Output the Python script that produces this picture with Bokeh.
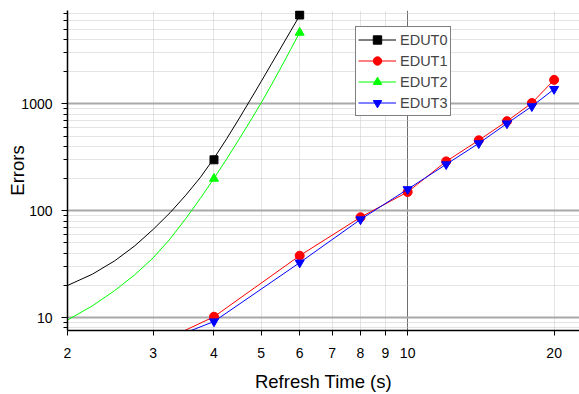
from bokeh.plotting import figure
from bokeh.models import FixedTicker, Grid, Legend, LegendItem, BasicTickFormatter, Range1d
from bokeh.embed import file_html
from bokeh.resources import INLINE

# ---- data ----
curve_x = [2, 2.25, 2.5, 2.75, 3, 3.25, 3.5, 3.75, 4, 4.25, 4.5, 4.75, 5, 5.25, 5.5, 5.75, 6]
edut0_curve = [20, 25.5, 34, 47, 67, 96, 140, 205, 310, 474, 724, 1092, 1620, 2371, 3407, 4821, 6720]
edut2_curve = [9.5, 12.9, 17.9, 25.2, 36.3, 54.6, 84.5, 130.6, 201, 307, 464, 692, 1022, 1510, 2221, 3241, 4676]

marker02_x = [4, 6]
edut0 = [300, 6800]
edut2 = [200, 4650]

marker13_x = [4, 6, 8, 10, 12, 14, 16, 18, 20]
edut1 = [10.2, 38, 87, 150, 290, 457, 690, 1020, 1680]
edut3 = [9.2, 32.7, 83, 159, 272, 428, 656, 950, 1377]
line13_x = [3] + marker13_x
edut1_line = [5.5] + edut1
edut3_line = [5.5] + edut3

x_ticks = [2, 3, 4, 5, 6, 7, 8, 9, 10, 20]
x_grid_major = [10]
x_grid_minor = [2, 3, 4, 5, 6, 7, 8, 9, 20]
y_ticks = [10, 100, 1000]
y_minor = [8, 9, 20, 30, 40, 50, 60, 70, 80, 90, 200, 300, 400, 500, 600, 700, 800, 900,
           2000, 3000, 4000, 5000, 6000, 7000]

FONT = "Liberation Sans"

p = figure(width=579, height=394, x_axis_type="log", y_axis_type="log",
           x_range=Range1d(2, 22.55), y_range=Range1d(7.58, 7490),
           output_backend="svg", toolbar_location=None,
           min_border_left=67, min_border_right=0, min_border_top=10, min_border_bottom=61)
p.outline_line_color = None
p.background_fill_color = "white"
p.border_fill_color = "white"

# grids
p.xgrid.visible = False
p.ygrid.visible = False
xg = Grid(dimension=0, ticker=FixedTicker(ticks=x_grid_major, minor_ticks=x_grid_minor),
          grid_line_color="#6e6e6e", grid_line_width=1,
          minor_grid_line_color="#c8c8c8", minor_grid_line_dash="1 1", minor_grid_line_width=1)
yg = Grid(dimension=1, ticker=FixedTicker(ticks=y_ticks, minor_ticks=y_minor),
          grid_line_color="#a8a8a8", grid_line_width=2,
          minor_grid_line_color="#c8c8c8", minor_grid_line_dash="1 1", minor_grid_line_width=1)
p.add_layout(xg)
p.add_layout(yg)

# axes
xa = p.xaxis[0]
xa.ticker = FixedTicker(ticks=x_ticks, minor_ticks=[])
xa.formatter = BasicTickFormatter()
xa.axis_label = "Refresh Time (s)"
ya = p.yaxis[0]
ya.ticker = FixedTicker(ticks=y_ticks, minor_ticks=y_minor)
ya.formatter = BasicTickFormatter()
ya.axis_label = "Errors"
for ax in (xa, ya):
    ax.axis_line_color = "black"
    ax.axis_line_width = 1.5
    ax.major_tick_line_color = "black"
    ax.minor_tick_line_color = "black"
    ax.major_tick_in = 0
    ax.minor_tick_in = 0
    ax.major_label_text_font = FONT
    ax.major_label_text_font_size = "14px"
    ax.major_label_text_color = "black"
    ax.axis_label_text_font = FONT
    ax.axis_label_text_font_size = "18.5px"
    ax.axis_label_text_font_style = "normal"
    ax.axis_label_text_color = "black"
xa.major_tick_out = 5
xa.major_label_standoff = 12
xa.axis_label_standoff = 10
ya.major_tick_out = 6
ya.minor_tick_out = 4
ya.major_label_standoff = 9
ya.axis_label_standoff = -10

# series
l0 = p.line(curve_x, edut0_curve, line_color="black", line_width=1)
m0 = p.scatter(marker02_x, edut0, marker="square", size=8, color="black")
l1 = p.line(line13_x, edut1_line, line_color="red", line_width=1)
m1 = p.scatter(marker13_x, edut1, marker="circle", size=9, color="red")
l2 = p.line(curve_x, edut2_curve, line_color="#00ff00", line_width=1)
m2 = p.scatter(marker02_x, edut2, marker="triangle", size=9, color="#00ff00")
l3 = p.line(line13_x, edut3_line, line_color="blue", line_width=1)
m3 = p.scatter(marker13_x, edut3, marker="inverted_triangle", size=9, color="blue")

legend = Legend(items=[
    LegendItem(label="EDUT0", renderers=[l0, m0]),
    LegendItem(label="EDUT1", renderers=[l1, m1]),
    LegendItem(label="EDUT2", renderers=[l2, m2]),
    LegendItem(label="EDUT3", renderers=[l3, m3]),
], location=(288, 214))
legend.border_line_color = "black"
legend.border_line_width = 1
legend.background_fill_alpha = 1
legend.label_text_font = FONT
legend.label_text_font_size = "14.5px"
legend.glyph_width = 38
legend.glyph_height = 21
legend.label_height = 21
legend.spacing = -2
legend.padding = 2
legend.label_standoff = 4
legend.margin = 0
p.add_layout(legend)

open("out.html", "w").write(file_html(p, INLINE))
